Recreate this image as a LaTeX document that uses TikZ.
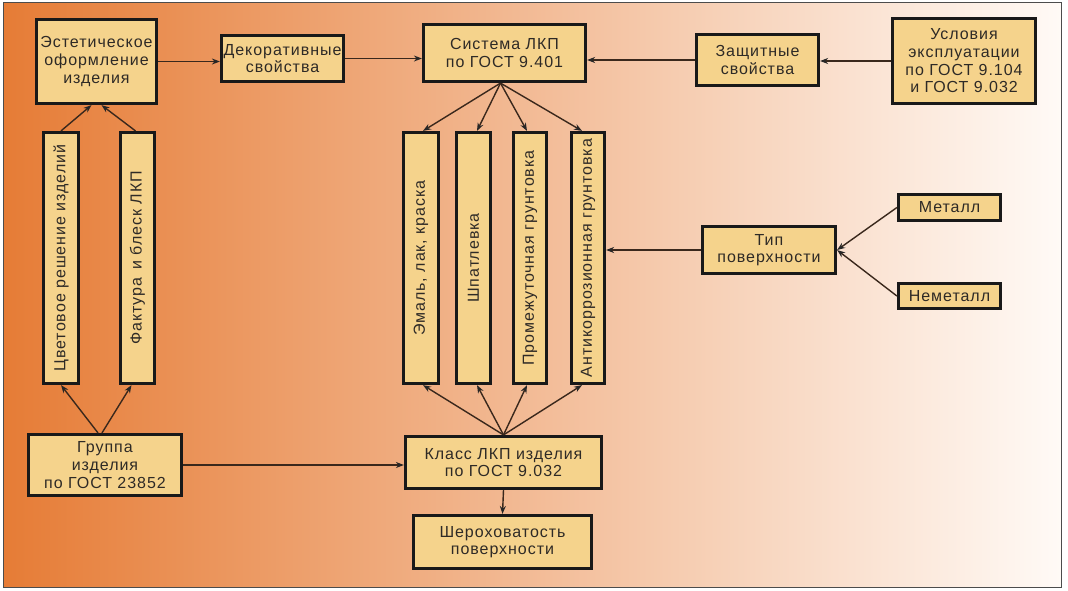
\documentclass[tikz,border=0pt]{standalone}
\usepackage{fontspec}
\usepackage{graphicx}
\setmainfont[LetterSpace=6]{Liberation Sans}
\usetikzlibrary{calc,arrows.meta}
\definecolor{bgL}{HTML}{E67C36}
\definecolor{bgM}{HTML}{F2B38C}
\definecolor{bgR}{HTML}{FFFAF6}
\definecolor{boxfill}{HTML}{F5D38C}
\definecolor{edgecol}{HTML}{3A281C}
\definecolor{txt}{HTML}{2E2A26}
\tikzset{
  boxnode/.style={draw=black!90, line width=3.2pt, fill=boxfill, inner sep=0pt,
    align=center, font=\fontsize{16}{17.7}\selectfont, text=txt},
  arr/.style={draw=edgecol, line width=1.4pt, -{Stealth[length=8pt,width=6pt,fill=black!85,color=black!85]}},
}
\begin{document}
\begin{tikzpicture}[x=1pt,y=-1pt]
\useasboundingbox (0,0) rectangle (1068,590);
\fill[white] (0,0) rectangle (1068,590);
\shade[left color=bgL, middle color=bgM, right color=bgR] (3,2) rectangle (1061,587);
\draw[gray!60!black, line width=1pt] (3,2) rectangle (1061,587);

% top row
\node[boxnode, minimum width=120, minimum height=84] (aest) at (96.5,61.5) {Эстетическое\\оформление\\изделия};
\node[boxnode, minimum width=122, minimum height=46] (deco) at (282.5,58.5) {Декоративные\\свойства};
\node[boxnode, minimum width=162, minimum height=57] (sys) at (504.5,53) {Система ЛКП\\по ГОСТ 9.401};
\node[boxnode, minimum width=122, minimum height=51] (prot) at (757.5,60) {Защитные\\свойства};
\node[boxnode, minimum width=143, minimum height=85] (cond) at (964,61) {Условия\\эксплуатации\\по ГОСТ 9.104\\и ГОСТ 9.032};

% vertical boxes
\node[boxnode, minimum width=35, minimum height=251] (color) at (61,258) {\rotatebox{90}{Цветовое решение изделий}};
\node[boxnode, minimum width=34, minimum height=251] (fact) at (137.5,258) {\rotatebox{90}{Фактура\, и блеск ЛКП}};
\node[boxnode, minimum width=35, minimum height=251] (enamel) at (421,258) {\rotatebox{90}{Эмаль, лак, краска}};
\node[boxnode, minimum width=34, minimum height=251] (putty) at (473.5,258) {\rotatebox{90}{Шпатлевка}};
\node[boxnode, minimum width=33, minimum height=251] (inter) at (530,258) {\rotatebox{90}{Промежуточная грунтовка}};
\node[boxnode, minimum width=33, minimum height=251] (anti) at (588,258) {\rotatebox{90}{Антикоррозионная грунтовка}};

% right side
\node[boxnode, minimum width=133, minimum height=47] (type) at (769,250) {Тип\\поверхности};
\node[boxnode, minimum width=102, minimum height=26] (metal) at (949.5,207.5) {Металл};
\node[boxnode, minimum width=102, minimum height=25] (nonmetal) at (949.5,296) {Неметалл};

% bottom
\node[boxnode, minimum width=153, minimum height=61] (group) at (105,465) {Группа\\изделия\\по ГОСТ 23852};
\node[boxnode, minimum width=196, minimum height=52] (class) at (503.5,462.5) {Класс ЛКП изделия\\по ГОСТ 9.032};
\node[boxnode, minimum width=178, minimum height=53] (rough) at (502.5,542) {Шероховатость\\поверхности};

% connectors
\draw[arr] (aest.east) -- (aest.east -| deco.west);
\draw[arr] (deco.east) -- (deco.east -| sys.west);
\draw[arr] (prot.west) -- (prot.west -| sys.east);
\draw[arr] (cond.west) -- (cond.west -| prot.east);

\draw[arr] (color.north) -- ($(aest.south)+(-5,0)$);
\draw[arr] ($(fact.north)+(-2,0)$) -- ($(aest.south)+(5,0)$);
\draw[arr] ($(group.north)+(-7,0)$) -- (color.south);
\draw[arr] ($(group.north)+(-3,0)$) -- ($(fact.south)+(-6,0)$);
\draw[arr] (group.east) -- (group.east -| class.west);

\draw[arr] ($(sys.south)+(-4,0)$) -- ($(enamel.north)+(2,0)$);
\draw[arr] ($(sys.south)+(-4,0)$) -- ($(putty.north)+(3.5,0)$);
\draw[arr] ($(sys.south)+(-4,0)$) -- ($(inter.north)+(-3,0)$);
\draw[arr] ($(sys.south)+(-4,0)$) -- ($(anti.north)+(-6,0)$);

\draw[arr] (class.north) -- ($(enamel.south)+(2,0)$);
\draw[arr] (class.north) -- ($(putty.south)+(3.5,0)$);
\draw[arr] (class.north) -- ($(inter.south)+(-3,0)$);
\draw[arr] (class.north) -- ($(anti.south)+(-6,0)$);
\draw[arr] (class.south) -- (rough.north);

\draw[arr] (type.west) -- (type.west -| anti.east);
\draw[arr] (metal.west) -- (type.east);
\draw[arr] (nonmetal.west) -- (type.east);
\end{tikzpicture}
\end{document}
